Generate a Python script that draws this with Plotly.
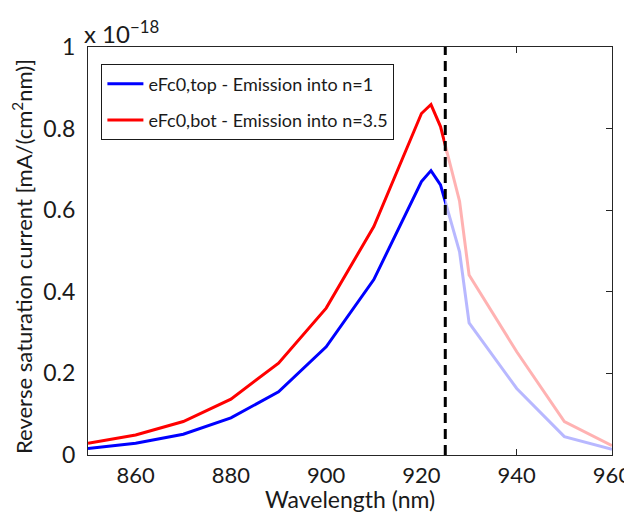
import plotly.graph_objects as go

# Data (values in units of 1e-18 mA/(cm^2 nm))
wavelength = [850, 860, 870, 880, 890, 900, 910, 920, 922, 924, 928, 930, 940, 950, 960]
efc0_top = [0.016, 0.029, 0.051, 0.091, 0.155, 0.265, 0.43, 0.67, 0.697, 0.662, 0.498, 0.324, 0.163, 0.045, 0.014]
efc0_bot = [0.029, 0.049, 0.082, 0.137, 0.225, 0.36, 0.56, 0.837, 0.859, 0.805, 0.622, 0.441, 0.253, 0.082, 0.023]
cutoff = 925
x_ticks = [860, 880, 900, 920, 940, 960]
y_ticks = [0, 0.2, 0.4, 0.6, 0.8, 1]
y_tick_labels = ["0", "0.2", "0.4", "0.6", "0.8", "1"]
label_top = "eFc0,top - Emission into n=1"
label_bot = "eFc0,bot - Emission into n=3.5"
x_title = "Wavelength (nm)"
y_title = "Reverse saturation current [mA/(cm<sup>2</sup>nm)]"

FONT = "Lato"
xmin, xmax = 850, 960

fig = go.Figure()
# faded full curves
fig.add_trace(go.Scatter(x=wavelength, y=efc0_top, mode="lines", showlegend=False,
                         line=dict(color="rgba(0,0,255,0.28)", width=3), hoverinfo="skip"))
fig.add_trace(go.Scatter(x=wavelength, y=efc0_bot, mode="lines", showlegend=False,
                         line=dict(color="rgba(255,0,0,0.3)", width=3), hoverinfo="skip"))
# solid curves clipped at cutoff via second x axis
fig.add_trace(go.Scatter(x=wavelength, y=efc0_top, mode="lines", name=label_top,
                         xaxis="x2", yaxis="y", legendgroup="a",
                         line=dict(color="#0000ff", width=3)))
fig.add_trace(go.Scatter(x=wavelength, y=efc0_bot, mode="lines", name=label_bot,
                         xaxis="x2", yaxis="y", legendgroup="b",
                         line=dict(color="#ff0000", width=3)))

frac = (cutoff - xmin) / (xmax - xmin)
axcol = "#262626"
fig.update_layout(
    width=632, height=512,
    margin=dict(l=80, r=28, t=39, b=65, autoexpand=False),
    paper_bgcolor="white", plot_bgcolor="white",
    font=dict(family=FONT, color="#1a1a1a", size=22),
    xaxis=dict(range=[xmin, xmax], tickvals=x_ticks, ticks="inside", ticklen=6,
               tickcolor=axcol, showline=True, linecolor=axcol, linewidth=1.3,
               mirror="ticks", showgrid=False, zeroline=False, automargin=False,
               tickfont=dict(size=22)),
    xaxis2=dict(range=[xmin, cutoff], domain=[0, frac], visible=False,
                anchor="y", showgrid=False, zeroline=False),
    yaxis=dict(range=[0, 1], tickvals=y_ticks, ticktext=y_tick_labels, ticks="inside",
               ticklen=6, tickcolor=axcol, showline=True, linecolor=axcol, linewidth=1.3,
               mirror="ticks", showgrid=False, zeroline=False, ticklabelstandoff=7,
               automargin=False, tickfont=dict(size=23)),
    legend=dict(x=0.025, y=0.958, xanchor="left", yanchor="top",
                bordercolor="#1a1a1a", borderwidth=1.3, bgcolor="white",
                font=dict(size=18, family=FONT), traceorder="grouped",
                tracegroupgap=10, itemwidth=36),
    shapes=[dict(type="line", xref="x", yref="paper", x0=cutoff, x1=cutoff, y0=0, y1=1,
                 line=dict(color="black", width=3, dash="10px,6px"))],
    annotations=[
        dict(text="x 10<sup>−18</sup>", xref="paper", yref="paper", x=0, y=1,
             xanchor="left", yanchor="bottom", yshift=-3, xshift=-6, showarrow=False,
             font=dict(size=24, family=FONT)),
        dict(text=x_title, xref="paper", yref="paper", x=0.5, y=0,
             xanchor="center", yanchor="top", yshift=-28, showarrow=False,
             font=dict(size=23, family=FONT)),
        dict(text=y_title, xref="paper", yref="paper", x=0, y=0.5, textangle=-90,
             xanchor="center", yanchor="middle", xshift=-66, yshift=-6, showarrow=False,
             font=dict(size=22, family=FONT)),
    ],
)

fig.write_html("out.html")
